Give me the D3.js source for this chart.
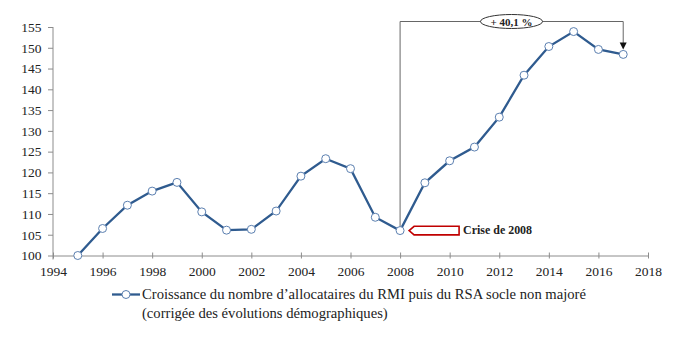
<!DOCTYPE html>
<html><head><meta charset="utf-8">
<script src="https://cdn.jsdelivr.net/npm/d3@7"></script>
<style>
body{margin:0;background:#fff;}
</style></head>
<body><svg id="c" width="695" height="339"></svg>
<script>
const years = [1995,1996,1997,1998,1999,2000,2001,2002,2003,2004,2005,2006,2007,2008,2009,2010,2011,2012,2013,2014,2015,2016,2017];
const values = [100,106.5,112.1,115.5,117.6,110.5,106.1,106.3,110.7,119.1,123.3,120.9,109.2,106.0,117.5,122.8,126.1,133.3,143.4,150.3,153.9,149.6,148.4];
const xTicks = [1994,1996,1998,2000,2002,2004,2006,2008,2010,2012,2014,2016,2018];
const yTicks = [100,105,110,115,120,125,130,135,140,145,150,155];
const seriesLabel = ["Croissance du nombre d\u2019allocataires du RMI puis du RSA socle non major\u00e9","(corrig\u00e9e des \u00e9volutions d\u00e9mographiques)"];
const growthLabel = "+ 40,1 %";
const crisisLabel = "Crise de 2008";

const FF = "Liberation Serif";
const svg = d3.select("#c");
const x = d3.scaleLinear().domain([1994,2018]).range([53,648]);
const y = d3.scaleLinear().domain([100,155]).range([255.5,27]);
const axisCol = "#8c8c8c", lineCol = "#2f5b8f";

function fit(sel, target){
  const w = sel.node().getComputedTextLength();
  const fs = parseFloat(sel.attr("font-size"));
  sel.attr("font-size", (fs*target/w).toFixed(2)+"px");
}

// axes
const xa = svg.append("g").attr("transform","translate(0,255.5)")
  .call(d3.axisBottom(x).tickValues(xTicks).tickFormat(d3.format("d")).tickSize(0).tickPadding(10.5))
  .attr("font-family",FF);
xa.select(".domain").attr("stroke",axisCol);
xa.selectAll(".tick").append("line").attr("y1",-3).attr("y2",3).attr("stroke",axisCol);
xa.selectAll("text").attr("font-size","13.5px").attr("fill","#222");

const ya = svg.append("g").attr("transform","translate(53,0)")
  .call(d3.axisLeft(y).tickValues(yTicks).tickSize(5).tickPadding(6.5))
  .attr("font-family",FF);
ya.select(".domain").attr("stroke",axisCol).attr("d","M0,"+y(155)+"V"+(y(100)+4));
ya.selectAll(".tick line").attr("stroke",axisCol);
ya.selectAll("text").attr("font-size","13.5px").attr("fill","#222");

// bracket annotation
const i08 = years.indexOf(2008), i17 = years.indexOf(2017);
const yb = 21.5;
svg.append("path").attr("fill","none").attr("stroke","#666").attr("stroke-width",1)
  .attr("d",`M${x(2008)},${y(values[i08])}V${yb}H${x(2017)}V${y(values[i17])-11}`);
svg.append("path").attr("fill","#111")
  .attr("d",`M${x(2017)-3.5},${y(values[i17])-12}L${x(2017)+3.5},${y(values[i17])-12}L${x(2017)},${y(values[i17])-5}Z`);
svg.append("ellipse").attr("cx",511.5).attr("cy",yb).attr("rx",31).attr("ry",7)
  .attr("fill","#fff").attr("stroke","#333").attr("stroke-width",1);
const gt = svg.append("text").attr("x",511.5).attr("y",yb+4.5).attr("text-anchor","middle").attr("font-family",FF)
  .attr("font-size","13px").attr("font-weight","bold").attr("fill","#222").text(growthLabel);
fit(gt, 42);

// line
svg.append("path").datum(years.map((d,i)=>[d,values[i]]))
  .attr("fill","none").attr("stroke",lineCol).attr("stroke-width",2.3)
  .attr("d",d3.line().x(d=>x(d[0])).y(d=>y(d[1])));
svg.selectAll("circle.pt").data(years.map((d,i)=>[d,values[i]])).join("circle")
  .attr("class","pt").attr("cx",d=>x(d[0])).attr("cy",d=>y(d[1])).attr("r",4)
  .attr("fill","#fff").attr("stroke","#5b7fb0").attr("stroke-width",1);

// crisis arrow
const tipX = x(2008)+9, cy = y(values[i08]);
svg.append("path").attr("fill","#fff").attr("stroke","#c00000").attr("stroke-width",1.6)
  .attr("d",`M${tipX},${cy}L${tipX+5},${cy-4.3}H${tipX+50}V${cy+4.3}H${tipX+5}Z`);
const ct = svg.append("text").attr("x",tipX+54).attr("y",cy+3.5).attr("font-size","12.5px").attr("font-family",FF)
  .attr("font-weight","bold").attr("fill","#222").text(crisisLabel);
fit(ct, 69);

// legend
const lg = svg.append("g");
lg.append("line").attr("x1",112).attr("x2",140).attr("y1",294.5).attr("y2",294.5).attr("stroke",lineCol).attr("stroke-width",2.3);
lg.append("circle").attr("cx",126).attr("cy",294.5).attr("r",4).attr("fill","#fff").attr("stroke","#5b7fb0");
const lt = lg.selectAll("text").data(seriesLabel).join("text").attr("font-family",FF)
  .attr("x",142).attr("y",(d,i)=>299+i*18.5).attr("font-size","13.5px").attr("fill","#222").text(d=>d);
const l0 = d3.select(lt.nodes()[0]);
fit(l0, 444);
lt.attr("font-size", l0.attr("font-size"));
</script></body></html>
